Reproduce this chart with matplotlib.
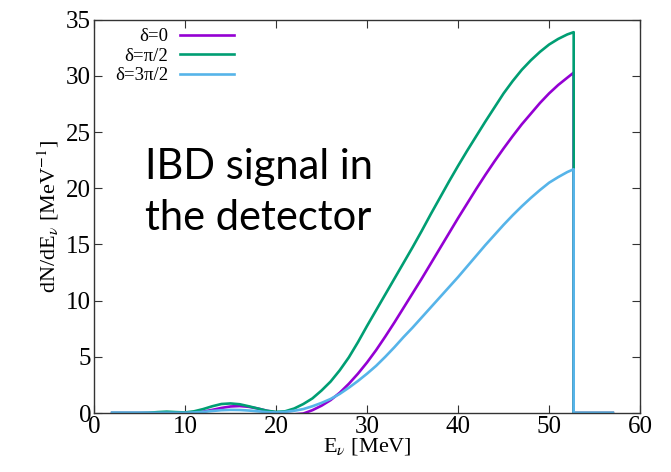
import matplotlib
matplotlib.use("Agg")
import matplotlib.pyplot as plt
import numpy as np

plt.rcParams["font.family"] = ["Liberation Serif", "DejaVu Serif"]
plt.rcParams["mathtext.fontset"] = "stix"

# IBD spectrum, dN/dE [MeV^-1], for three CP phases, 1 MeV steps up to the cutoff
energy = list(range(2, 53)) + [52.7]
dn_delta0 = [0, 0, 0, 0, 0, 0, 0, 0, 0.02, 0.05, 0.12, 0.28, 0.45, 0.58, 0.62,
             0.55, 0.4, 0.2, 0.05, -0.08, -0.12, -0.05, 0.25, 0.65, 1.15, 1.8,
             2.6, 3.5, 4.5, 5.6, 6.8, 8.05, 9.35, 10.65, 11.95, 13.3, 14.65, 16.0,
             17.35, 18.65, 19.95, 21.2, 22.4, 23.55, 24.65, 25.7, 26.65, 27.6,
             28.45, 29.2, 29.85, 30.3]
dn_pi_half = [0, 0, 0, 0, 0.02, 0.08, 0.12, 0.08, 0.05, 0.15, 0.35, 0.6, 0.8,
              0.85, 0.78, 0.6, 0.4, 0.2, 0.1, 0.15, 0.4, 0.8, 1.3, 2.0, 2.8, 3.8,
              4.95, 6.3, 7.75, 9.15, 10.55, 11.95, 13.35, 14.75, 16.2, 17.7, 19.15,
              20.6, 22.0, 23.35, 24.65, 25.95, 27.2, 28.45, 29.55, 30.55, 31.4,
              32.15, 32.8, 33.3, 33.7, 33.9]
dn_3pi_half = [0.02, 0.02, 0.02, 0.02, 0.02, 0.02, 0.02, 0.02, 0.02, 0.05, 0.1,
               0.18, 0.25, 0.28, 0.27, 0.22, 0.15, 0.08, 0.05, 0.1, 0.2, 0.35,
               0.6, 0.9, 1.25, 1.7, 2.25, 2.85, 3.5, 4.2, 5.0, 5.85, 6.75, 7.6,
               8.5, 9.4, 10.3, 11.2, 12.1, 13.05, 14.0, 14.95, 15.85, 16.75, 17.6,
               18.4, 19.15, 19.85, 20.5, 21.0, 21.45, 21.7]
e_cut = 52.7
e_end = 57.0

labels = ["δ=0", "δ=π/2", "δ=3π/2"]
colors = ["#9400d3", "#009e73", "#56b4e9"]

fig = plt.figure(figsize=(6.71, 4.72), dpi=100)
ax = fig.add_axes([0.140, 0.125, 0.814, 0.833])

for vals, lab, col in zip([dn_delta0, dn_pi_half, dn_3pi_half], labels, colors):
    x = np.r_[energy, e_cut, e_end]
    y = np.r_[vals, 0, 0]
    ax.plot(x, y, color=col, lw=1.9, label=lab, solid_joinstyle="round")

ax.set_xlim(0, 60)
ax.set_ylim(0, 35)
ax.set_xticks(np.arange(0, 61, 10))
ax.set_yticks(np.arange(0, 36, 5))
ax.tick_params(direction="in", top=True, right=True, length=6, width=0.8,
               labelsize=18, colors="#333333", labelcolor="black", pad=2)
for s in ax.spines.values():
    s.set_color("#333333")
    s.set_linewidth(1.0)

ax.set_xlabel(r"E$_\nu$ [MeV]", fontsize=16, labelpad=-1)
ax.set_ylabel(r"dN/dE$_\nu$ [MeV$^{-1}$]", fontsize=16, labelpad=4)

ax.legend(loc="upper left", bbox_to_anchor=(0.015, 1.012), frameon=False,
          markerfirst=False, fontsize=13.5, handlelength=2.9, handletextpad=0.6,
          labelspacing=0.12, borderaxespad=0.3)

fig.text(0.216, 0.513, "IBD signal in\nthe detector", fontsize=30,
         family=["Lato", "DejaVu Sans"], linespacing=1.42, va="baseline")

fig.savefig("out.png", dpi=100)
